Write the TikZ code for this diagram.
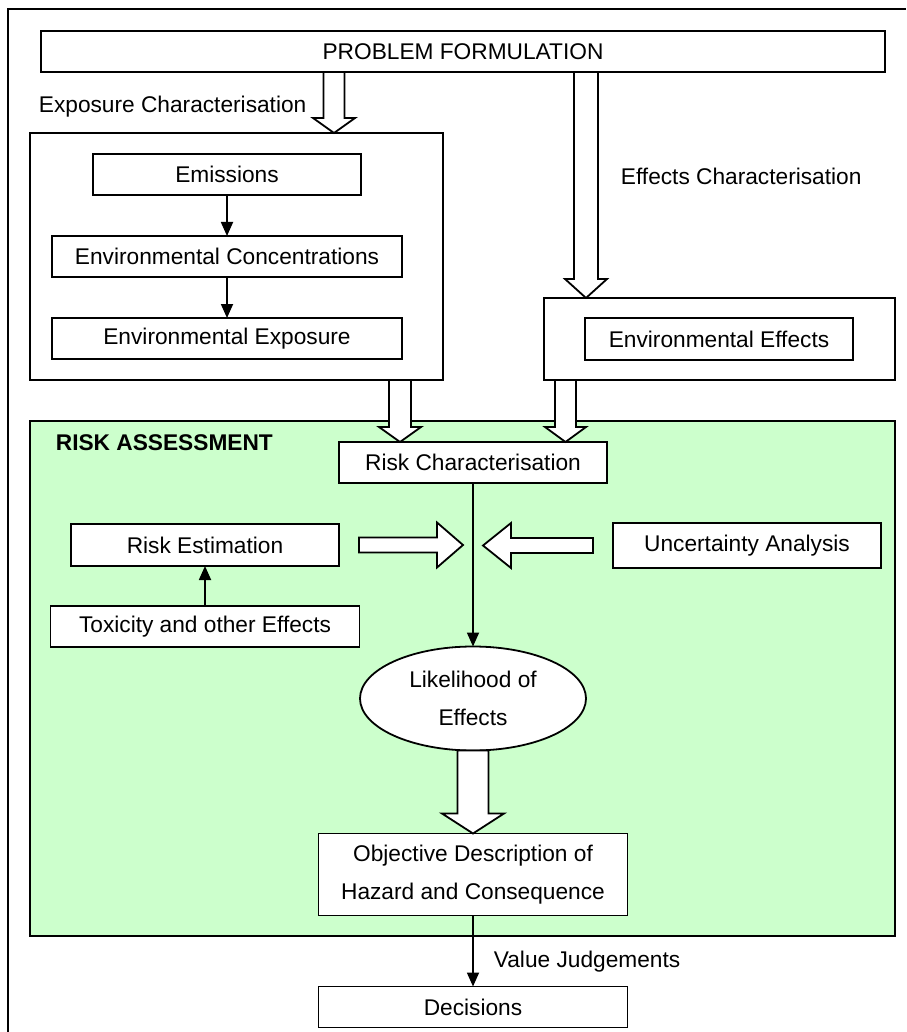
\documentclass[tikz,border=0pt]{standalone}
\usepackage{fontspec}
\setmainfont{Liberation Sans}
\usetikzlibrary{positioning, shapes.geometric, arrows.meta, calc}

\definecolor{riskgreen}{RGB}{204,255,204}
\newcommand{\rafont}{\fontsize{22.7}{38}\selectfont}
% block arrow: from, to, half shaft, half head, head length
\newcommand{\fatarrow}[5]{%
  \draw[fat] let \p1=(#1), \p2=(#2), \p3=($(\p2)!#5!(\p1)$) in
    ($(\p1)!#3!90:(\p2)$) -- ($(\p3)!#3!-90:(\p1)$) -- ($(\p3)!#4!-90:(\p1)$) -- (\p2)
    -- ($(\p3)!#4!90:(\p1)$) -- ($(\p3)!#3!90:(\p1)$) -- ($(\p1)!#3!-90:(\p2)$) -- cycle;}

\tikzset{
  box/.style={draw, rectangle, fill=white, inner sep=0pt, outer sep=0pt,
    minimum height=41pt, align=center},
  frame/.style={draw, rectangle, inner sep=0pt, outer sep=0pt},
  label/.style={inner sep=0pt, anchor=west},
  fat/.style={draw, fill=white, line join=miter}
}

\begin{document}
\begin{tikzpicture}
	[x=1pt, y=-1pt, line width=1.8pt, font=\rafont,
	 >={Triangle[width=12pt, length=14pt]}]
   \useasboundingbox (0,0) rectangle (906,1032);
   \draw (8,1032) -- (8,9) -- (906,9);
   % risk assessment area
   \node[frame, fill=riskgreen, minimum width=865pt, minimum height=515pt] (ra) at (462.5,678.5) {};
   \node[label, font=\rafont\bfseries] (ra_t) at (55,443) {RISK ASSESSMENT};
   \node[box, minimum width=844pt] (pf) at (463,51.5) {PROBLEM FORMULATION};
   \node[label] (expo_t) at (38,107) {Exposure Characterisation};
   \node[label] (eff_t) at (620,176) {Effects Characterisation};
   % exposure side
   \node[frame, minimum width=413pt, minimum height=247pt] (expo) at (236.5,256.5) {};
   \node[box, minimum width=268pt] (emis) at (227,174.5) {Emissions};
   \node[box, minimum width=350pt] (conc) [below=41pt of emis] {Environmental Concentrations};
   \node[box, minimum width=350pt] (expos) [below=41pt of conc] {Environmental Exposure};
   % effects side
   \node[frame, minimum width=351pt, minimum height=82pt] (effbox) at (719.5,339) {};
   \node[box, minimum width=268pt, minimum height=42pt] (eff) at (719,339) {Environmental Effects};
   % risk assessment
   \node[box, minimum width=268pt] (riskchar) at (473,462.5) {Risk Characterisation};
   \node[box, minimum width=268pt, minimum height=42pt] (riskest) at (205,545) {Risk Estimation};
   \node[box, minimum width=309pt] (tox) [below=40pt of riskest] {Toxicity and other Effects};
   \node[box, minimum width=268pt, minimum height=45pt] (uncert) at (747,545.5) {Uncertainty Analysis};
   \node[ellipse, draw, fill=white, inner sep=0pt, outer sep=0pt, align=center,
     minimum width=226pt, minimum height=104pt] (lik) at (473,698.5) {Likelihood of\\Effects};
   \node[box, minimum width=309pt, minimum height=82pt] (obj) [below=83pt of lik]
     {Objective Description of\\Hazard and Consequence};
   \node[box, minimum width=309pt] (dec) [below=71pt of obj] {Decisions};
    \path[->]
    (emis) edge (conc)
    (conc) edge (expos)
    (tox) edge (riskest)
    (riskchar) edge (lik)
    (obj) edge node[label, pos=0.65, xshift=20pt] (vj) {Value Judgements} (dec);
   % block arrows
   \fatarrow{334,0 |- pf.south}{334,0 |- expo.north}{10.5pt}{21pt}{15pt}
   \fatarrow{586,0 |- pf.south}{586,0 |- effbox.north}{12pt}{21pt}{19pt}
   \fatarrow{400,0 |- expo.south}{400,0 |- riskchar.north}{11pt}{21pt}{15pt}
   \fatarrow{565.5,0 |- effbox.south}{565.5,0 |- riskchar.north}{10.5pt}{20.5pt}{15pt}
   \fatarrow{359,0 |- riskest.east}{463,0 |- riskest.east}{7.5pt}{22.5pt}{26pt}
   \fatarrow{593,0 |- uncert.west}{483,0 |- uncert.west}{7.5pt}{22.5pt}{28pt}
   \fatarrow{lik.south}{obj.north}{15.5pt}{31pt}{20pt}
\end{tikzpicture}
\end{document}
